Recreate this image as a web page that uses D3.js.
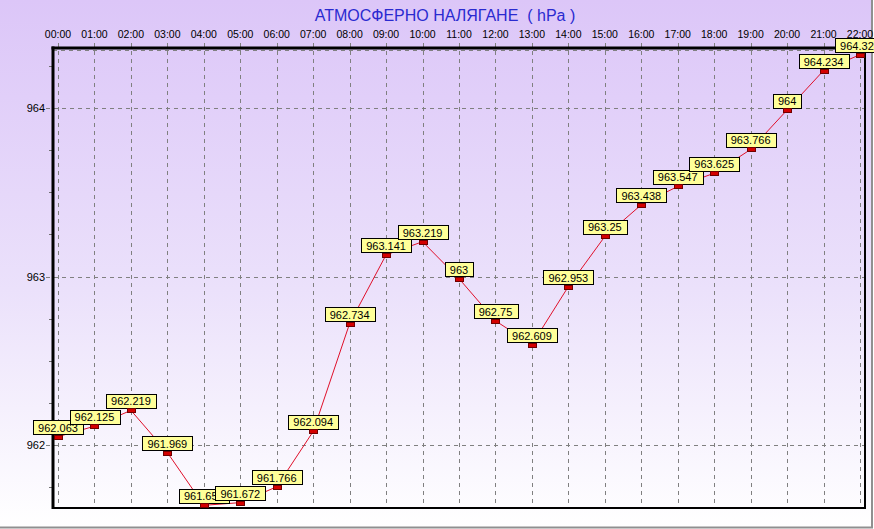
<!DOCTYPE html>
<html><head><meta charset="utf-8">
<script src="https://cdn.jsdelivr.net/npm/d3@7"></script>
<style>html,body{margin:0;padding:0;background:#fff;}svg{display:block;}</style>
</head><body>
<script>
const hours = ["00:00","01:00","02:00","03:00","04:00","05:00","06:00","07:00","08:00","09:00","10:00","11:00","12:00","13:00","14:00","15:00","16:00","17:00","18:00","19:00","20:00","21:00","22:00"];
const pressure = [962.063,962.125,962.219,961.969,961.656,961.672,961.766,962.094,962.734,963.141,963.219,963,962.75,962.609,962.953,963.25,963.438,963.547,963.625,963.766,964,964.234,964.328];
const pressureLabels = ["962.063","962.125","962.219","961.969","961.656","961.672","961.766","962.094","962.734","963.141","963.219","963","962.75","962.609","962.953","963.25","963.438","963.547","963.625","963.766","964","964.234","964.328"];
const yMajorTicks = [962, 963, 964];
const yMinorTicks = [961.75, 962.25, 962.5, 962.75, 963.25, 963.5, 963.75, 964.25];
const title = "АТМОСФЕРНО НАЛЯГАНЕ  ( hPa )";

const W = 874, H = 529;
const L = 53, T = 48, R = 865, B = 508;
const svg = d3.select("body").append("svg").attr("width", W).attr("height", H);

const defs = svg.append("defs");
const grad = defs.append("linearGradient").attr("id","bg").attr("x1",0).attr("y1",0).attr("x2",0).attr("y2",1);
grad.append("stop").attr("offset","0%").attr("stop-color","#dcc6f8");
grad.append("stop").attr("offset","55%").attr("stop-color","#ebe1fb");
grad.append("stop").attr("offset","100%").attr("stop-color","#ffffff");

svg.append("rect").attr("width",W).attr("height",H).attr("fill","#fff");
svg.append("rect").attr("width",872).attr("height",527).attr("fill","url(#bg)");
// outer frame (right & bottom)
svg.append("line").attr("x1",872).attr("x2",872).attr("y1",0).attr("y2",528).attr("stroke","#909090").attr("stroke-width",2);
svg.append("line").attr("x1",0).attr("x2",873).attr("y1",527.5).attr("y2",527.5).attr("stroke","#909090").attr("stroke-width",2);

const x = d3.scaleLinear().domain([0, hours.length - 1]).range([58, 860]);
const y = d3.scaleLinear().domain([962, 964]).range([445.3, 108]);

// title
svg.append("text").attr("x",445).attr("y",21).attr("text-anchor","middle")
  .attr("font-family","Arial, 'Liberation Sans', sans-serif").attr("font-size",16)
  .attr("fill","#2a2ad0").style("white-space","pre").text(title);

// gridlines
const grid = svg.append("g").attr("stroke","#808080").attr("stroke-width",1).attr("stroke-dasharray","4,4");
grid.selectAll("line.v").data(hours).join("line")
  .attr("x1",(d,i)=>Math.round(x(i))+0.5).attr("x2",(d,i)=>Math.round(x(i))+0.5)
  .attr("y1",43).attr("y2",B);
grid.selectAll("line.h").data(yMajorTicks).join("line")
  .attr("x1",46).attr("x2",R).attr("y1",d=>Math.round(y(d))+0.5).attr("y2",d=>Math.round(y(d))+0.5);
grid.append("line").attr("x1",L).attr("x2",R).attr("y1",50.5).attr("y2",50.5);

// minor ticks
svg.append("g").selectAll("line").data(yMinorTicks).join("line")
  .attr("x1",49).attr("x2",L).attr("y1",d=>Math.round(y(d))+0.5).attr("y2",d=>Math.round(y(d))+0.5)
  .attr("stroke","#707070");

// axis frame
svg.append("line").attr("x1",L).attr("x2",L).attr("y1",T-1.5).attr("y2",B+1).attr("stroke","#000").attr("stroke-width",3);
svg.append("line").attr("x1",L-1.5).attr("x2",R+1).attr("y1",T).attr("y2",T).attr("stroke","#000").attr("stroke-width",3);
svg.append("line").attr("x1",R).attr("x2",R).attr("y1",T).attr("y2",B+1).attr("stroke","#000").attr("stroke-width",2);
svg.append("line").attr("x1",L).attr("x2",R+1).attr("y1",B).attr("y2",B).attr("stroke","#000").attr("stroke-width",2);

// x labels
svg.append("g").selectAll("text").data(hours).join("text")
  .attr("x",(d,i)=>x(i)).attr("y",38).attr("text-anchor","middle")
  .attr("font-family","Arial, 'Liberation Sans', sans-serif").attr("font-size",10.5).attr("fill","#000").text(d=>d);

// y labels
svg.append("g").selectAll("text").data(yMajorTicks).join("text")
  .attr("x",45).attr("y",d=>y(d)+4).attr("text-anchor","end")
  .attr("font-family","Arial, 'Liberation Sans', sans-serif").attr("font-size",11).attr("fill","#000").text(d=>d);

// line
const line = d3.line().x((d,i)=>x(i)).y(d=>y(d)+2);
svg.append("path").datum(pressure).attr("d",line).attr("fill","none").attr("stroke","#e0102a").attr("stroke-width",1);

// markers and labels
const pts = svg.append("g");
pressure.forEach((v,i)=>{
  const g = pts.append("g");
  const cx = x(i), cy = y(v);
  const t = g.append("text").attr("font-family","Arial, 'Liberation Sans', sans-serif").attr("font-size",11)
    .attr("text-anchor","middle").attr("x",cx).attr("y",cy-3).attr("fill","#000").text(pressureLabels[i]);
  const w = t.node().getComputedTextLength() + 10;
  g.insert("rect","text").attr("x",Math.round(cx - w/2)+0.5).attr("y",Math.round(cy-14.5)+0.5).attr("width",Math.round(w)).attr("height",14)
    .attr("fill","#ffff99").attr("stroke","#000").attr("stroke-width",1);
  g.append("rect").attr("x",Math.round(cx-4)+0.5).attr("y",Math.round(cy)+0.5).attr("width",8).attr("height",4)
    .attr("fill","#d40000").attr("stroke","#700000").attr("stroke-width",1);
});
</script>
</body></html>
